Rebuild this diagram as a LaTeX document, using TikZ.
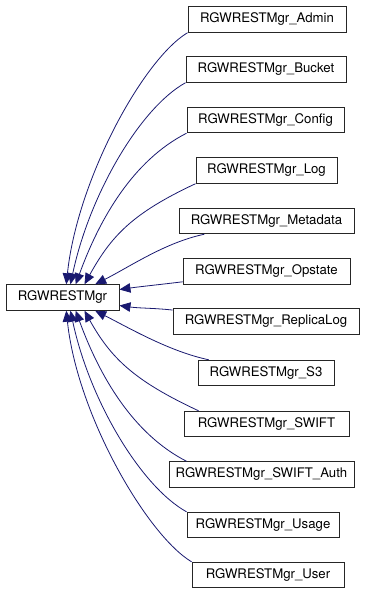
\documentclass[tikz,border=0pt]{standalone}
\usepackage{fontspec}
\setmainfont{TeX Gyre Heros}
\usetikzlibrary{arrows.meta}
\definecolor{midnightblue}{RGB}{25,25,112}
\begin{document}
\begin{tikzpicture}[x=1pt,y=1pt,
  every node/.style={draw=black!85,fill=white,line width=0.9pt,minimum height=25.5pt,inner sep=0pt,font=\fontsize{13.2}{15}\selectfont},
  inh/.style={draw=midnightblue,line width=0.8pt,-{Triangle[length=11pt,width=9.5pt]}}]
\useasboundingbox (0,0) rectangle (371,-595);
\node[minimum width=113pt] (base) at (62.5,-297.5) {RGWRESTMgr};
\node[minimum width=158pt] (admin) at (267,-19.5) {RGWRESTMgr\_Admin};
\node[minimum width=160pt] (bucket) at (266,-69.5) {RGWRESTMgr\_Bucket};
\node[minimum width=157pt] (config) at (265.5,-120) {RGWRESTMgr\_Config};
\node[minimum width=141pt] (log) at (266.5,-170.5) {RGWRESTMgr\_Log};
\node[minimum width=175pt] (metadata) at (266.5,-221) {RGWRESTMgr\_Metadata};
\node[minimum width=167pt] (opstate) at (266.5,-271.5) {RGWRESTMgr\_Opstate};
\node[minimum width=186pt] (replicalog) at (266,-321.5) {RGWRESTMgr\_ReplicaLog};
\node[minimum width=136pt] (s3) at (266,-373) {RGWRESTMgr\_S3};
\node[minimum width=165pt] (swift) at (266.5,-424) {RGWRESTMgr\_SWIFT};
\node[minimum width=185pt] (swiftauth) at (261.5,-474.5) {RGWRESTMgr\_SWIFT\_Auth};
\node[minimum width=152pt] (usage) at (263,-525) {RGWRESTMgr\_Usage};
\node[minimum width=152pt] (user) at (268,-575) {RGWRESTMgr\_User};
% subclasses above
\draw[inh] (admin.south west) .. controls +(211:52) and +(84:105) .. (base.74);
\draw[inh] (bucket.south west) .. controls +(209:52) and +(78:92) .. (base.59);
\draw[inh] (config.south west) .. controls +(207:60) and +(70:70) .. (base.45);
\draw[inh] (log.south west) .. controls +(205:70) and +(61:55) .. (base.31);
\draw[inh] (metadata.192) .. controls +(192:40) and +(27:40) .. (base.22);
\draw[inh] (opstate.187) .. controls +(187:20) and +(8:20) .. (base.8);
% subclasses below
\draw[inh] (replicalog.173) .. controls +(174:20) and +(352:20) .. (base.352);
\draw[inh] (s3.167) .. controls +(168:40) and +(333:40) .. (base.338);
\draw[inh] (swift.169) .. controls +(155:70) and +(299:55) .. (base.329);
\draw[inh] (swiftauth.170) .. controls +(153:60) and +(290:70) .. (base.315);
\draw[inh] (usage.north west) .. controls +(151:52) and +(282:92) .. (base.301);
\draw[inh] (user.north west) .. controls +(149:52) and +(276:105) .. (base.286);
\end{tikzpicture}
\end{document}
